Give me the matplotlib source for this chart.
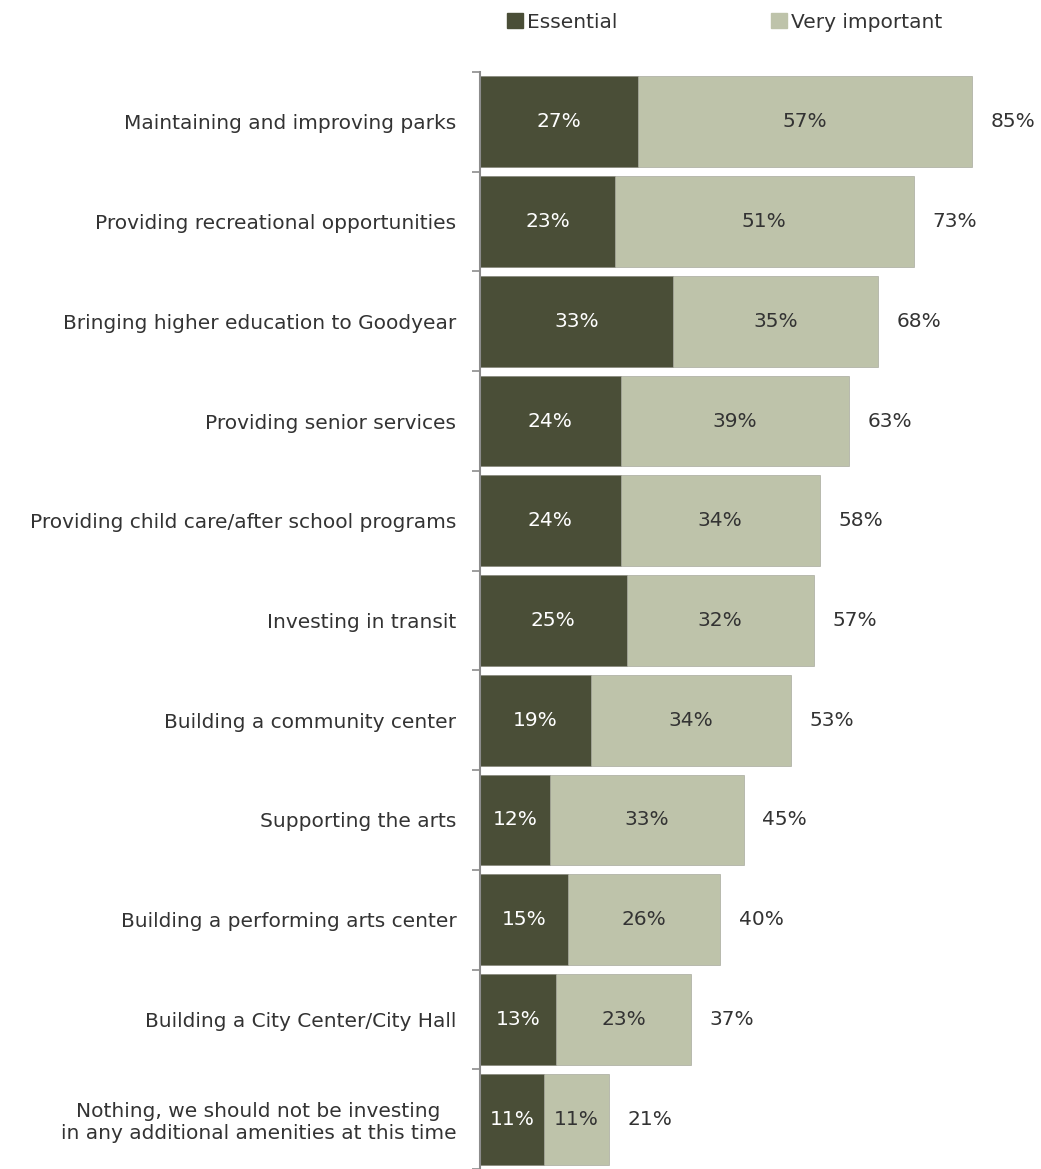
import matplotlib
matplotlib.use("Agg")
import matplotlib.pyplot as plt
from matplotlib.patches import Patch

categories = [
    "Maintaining and improving parks",
    "Providing recreational opportunities",
    "Bringing higher education to Goodyear",
    "Providing senior services",
    "Providing child care/after school programs",
    "Investing in transit",
    "Building a community center",
    "Supporting the arts",
    "Building a performing arts center",
    "Building a City Center/City Hall",
    "Nothing, we should not be investing\nin any additional amenities at this time",
]
essential = [27, 23, 33, 24, 24, 25, 19, 12, 15, 13, 11]
very_important = [57, 51, 35, 39, 34, 32, 34, 33, 26, 23, 11]
totals = [85, 73, 68, 63, 58, 57, 53, 45, 40, 37, 21]

dark = "#4a4e37"
light = "#bec3aa"
text_dark = "#333333"
fs = 14.5

W, H = 1041, 1169
fig = plt.figure(figsize=(W / 100, H / 100), dpi=100)
ax = fig.add_axes([480 / W, 0, (W - 480) / W, (H - 72) / H])

y = list(range(len(categories)))
ax.barh(y, essential, height=0.91, color=dark, edgecolor="#7d7d72", linewidth=0.4)
ax.barh(y, very_important, left=essential, height=0.91, color=light,
        edgecolor="#9a9c90", linewidth=0.4)

for i in y:
    e, v, t = essential[i], very_important[i], totals[i]
    ax.text(e / 2, i, f"{e}%", ha="center", va="center", color="white", fontsize=fs)
    ax.text(e + v / 2, i, f"{v}%", ha="center", va="center", color=text_dark, fontsize=fs)
    # total label sits a fixed distance past the end of the stacked bar
    ax.text(e + v + 7.0, i, f"{t}%", ha="center", va="center", color=text_dark, fontsize=fs)

ax.set_xlim(0, 561 / 5.86)
ax.set_ylim(-0.5 + (H - 72) / 100, -0.5)

ax.set_yticks(y)
ax.set_yticklabels(categories, fontsize=fs, color=text_dark)
ax.tick_params(axis="y", which="major", length=0, pad=17)
for lbl in ax.get_yticklabels():
    lbl.set_multialignment("center")
ax.set_yticks([k - 0.5 for k in range(len(categories) + 1)], minor=True)
ax.tick_params(axis="y", which="minor", length=6, width=1.2, color="#8c8c8c", direction="out")

ax.set_xticks([])
for s in ["top", "right", "bottom"]:
    ax.spines[s].set_visible(False)
ax.spines["left"].set_color("#8c8c8c")
ax.spines["left"].set_linewidth(1.5)

handles = [Patch(color=dark, label="Essential"), Patch(color=light, label="Very important")]
fig.legend(handles=handles, loc="center left", bbox_to_anchor=(507 / W, 1 - 22 / H),
           ncol=2, frameon=False, fontsize=fs, handlelength=0.8, handleheight=0.8,
           handletextpad=0.2, columnspacing=7.6, labelcolor=text_dark,
           borderpad=0, borderaxespad=0)

fig.savefig("out.png", dpi=100, facecolor="white")
